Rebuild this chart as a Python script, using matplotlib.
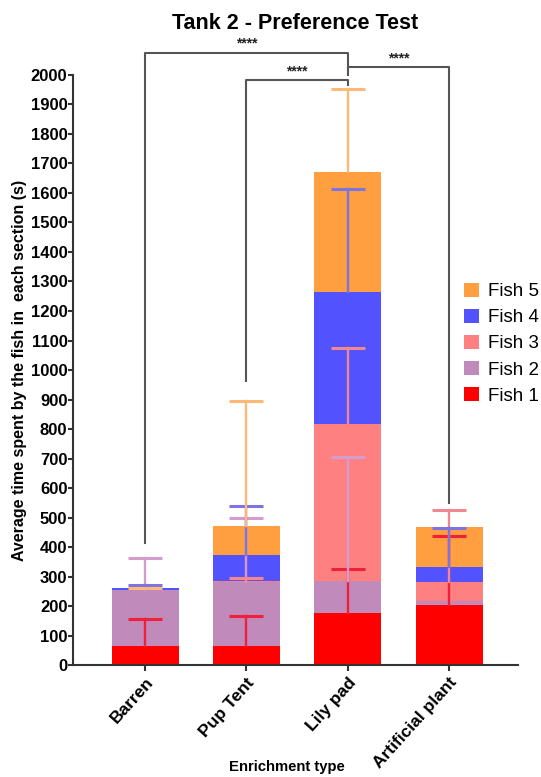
import matplotlib.pyplot as plt
import numpy as np

plt.rcParams["font.family"] = ["Liberation Sans", "DejaVu Sans"]

categories = ["Barren", "Pup Tent", "Lily pad", "Artificial plant"]
series = ["Fish 1", "Fish 2", "Fish 3", "Fish 4", "Fish 5"]

# mean time per fish (stacked) and upper SD
fish1 = [65, 65, 175, 204]
fish2 = [190, 218, 111, 14]
fish3 = [0, 3, 532, 65]
fish4 = [5, 88, 446, 49]
fish5 = [0, 98, 406, 135]

err1 = [90, 101, 150, 234]
err2 = [109, 214, 419, 0]
err3 = [0, 10, 257, 243]
err4 = [11, 164, 351, 132]
err5 = [1, 423, 282, 0]

# significance brackets: (left bar, right bar, left leg end, right leg end, top)
brackets = [
    (0, 2, 414, 2030, 2076),
    (1, 2, 962, 1965, 1982),
    (2, 3, 2000, 549, 2027),
]

bar_colors = ["#FF0000", "#C08ABB", "#FF8080", "#5252FF", "#FF9F40"]
err_colors = ["#F0203A", "#D49CCC", "#F08890", "#7C74E0", "#FFB878"]

values = [fish1, fish2, fish3, fish4, fish5]
errors = [err1, err2, err3, err4, err5]

fig = plt.figure(figsize=(5.41, 7.77), dpi=100)
ax = fig.add_axes([0.135, 0.1441, 0.8225, 0.7594])

x = np.arange(len(categories))
width = 0.66
bottom = np.zeros(len(categories))
handles = []
for vals, errs, c, ec, name in zip(values, errors, bar_colors, err_colors, series):
    vals = np.array(vals, dtype=float)
    h = ax.bar(x, vals, width, bottom=bottom, color=c, label=name, zorder=2)
    handles.append(h)
    top = bottom + vals
    for xi, t, e in zip(x, top, errs):
        if e <= 0:
            continue
        # upper error only: stem plus a single cap
        ax.plot([xi, xi], [t, t + e], color=ec, lw=1.7, zorder=3)
        ax.plot(xi, t + e, marker="_", ms=25, mew=2.2, color=ec, zorder=3)
    bottom = top

line_c = "#555555"
for l, r, yl, yr, top in brackets:
    ax.plot([l, l, r, r], [yl, top, top, yr], color=line_c, lw=1.5,
            clip_on=False, zorder=4)
    ax.text((l + r) / 2, top + 6, "****", ha="center", va="bottom",
            fontsize=10, fontweight="bold", color="#222222")

ax.set_xlim(-0.711, 3.68)
ax.set_ylim(0, 2000)
ax.set_yticks(np.arange(0, 2001, 100))
ax.set_xticks(x)
ax.set_xticklabels(categories, rotation=48, ha="right", rotation_mode="anchor",
                   fontsize=12.5, fontweight="bold")
for lab in ax.get_yticklabels():
    lab.set_fontweight("bold")
    lab.set_fontsize(12)

for s in ["top", "right"]:
    ax.spines[s].set_visible(False)
for s in ["left", "bottom"]:
    ax.spines[s].set_linewidth(1.5)
    ax.spines[s].set_color("#333333")
ax.tick_params(axis="y", length=3.5, width=1.5, color="#333333", pad=0.5)
ax.tick_params(axis="x", length=4, width=1.5, color="#333333", pad=3)

ax.set_ylabel("Average time spent by the fish in  each section (s)",
              fontsize=11.5, fontweight="bold", labelpad=3)
fig.text(0.53, 0.004, "Enrichment type", ha="center", va="bottom",
         fontsize=10.7, fontweight="bold")
fig.text(0.545, 0.97, "Tank 2 - Preference Test", ha="center", va="center",
         fontsize=15.5, fontweight="bold")

leg = ax.legend(handles[::-1], series[::-1], loc="upper left",
                bbox_to_anchor=(0.862, 0.661), frameon=False, fontsize=13.5,
                handlelength=0.8, handleheight=0.8, handletextpad=0.5,
                labelspacing=0.45, borderaxespad=0)

fig.savefig("out.png", dpi=100)
